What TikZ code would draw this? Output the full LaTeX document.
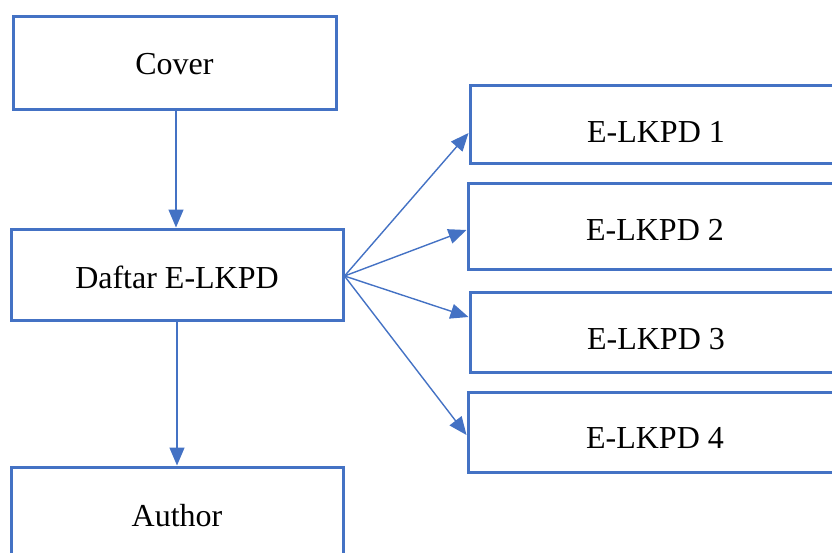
\documentclass[tikz,border=0pt]{standalone}
\usepackage{fontspec}
\setmainfont{Liberation Serif}
\usetikzlibrary{arrows.meta}
\definecolor{frameblue}{HTML}{4472C4}
\begin{document}
\begin{tikzpicture}[x=1pt,y=-1pt,
  box/.style={draw=frameblue, line width=3pt, fill=white, inner sep=0pt},
  txt/.style={font=\fontsize{32}{38}\selectfont, text=black, inner sep=0pt},
  link/.style={draw=frameblue, line width=1.4pt, -{Triangle[length=18pt,width=15pt]}}]
  \useasboundingbox (0,0) rectangle (832,552);
  \clip (0,0) rectangle (832,552);

  % left column
  \node[box, minimum width=323pt, minimum height=93pt] (c) at (174.5,62.5) {};
  \node[txt] (ct) at (174.5,64) {Cover};
  \node[box, minimum width=332pt, minimum height=91pt] (d) at (177,274.5) {};
  \node[txt] (dt) at (177,277) {Daftar E-LKPD};
  \node[box, minimum width=332pt, minimum height=93pt] (a) at (177,513.5) {};
  \node[txt] (at) at (177,516) {Author};

  % right column
  \node[box, minimum width=372pt, minimum height=78pt] (e1) at (656,124) {};
  \node[txt] (e1t) at (656,132) {E-LKPD 1};
  \node[box, minimum width=374pt, minimum height=86pt] (e2) at (655,226) {};
  \node[txt] (e2t) at (655,230) {E-LKPD 2};
  \node[box, minimum width=372pt, minimum height=80pt] (e3) at (656,332) {};
  \node[txt] (e3t) at (656,339) {E-LKPD 3};
  \node[box, minimum width=374pt, minimum height=80pt] (e4) at (655,432) {};
  \node[txt] (e4t) at (655,438) {E-LKPD 4};

  % connectors
  \draw[link] ([xshift=-1pt]c.south -| d.north) -- ([xshift=-1pt]d.north);
  \draw[link] (d.south) -- (a.north);
  \coordinate (fan) at ([yshift=-1.5pt]d.east);
  \draw[link] (fan) -- ([yshift=-9pt]e1.west);
  \draw[link] (fan) -- ([yshift=-4pt]e2.west);
  \draw[link] (fan) -- ([yshift=15pt]e3.west);
  \draw[link] (fan) -- ([yshift=-3pt]e4.west);
\end{tikzpicture}
\end{document}
